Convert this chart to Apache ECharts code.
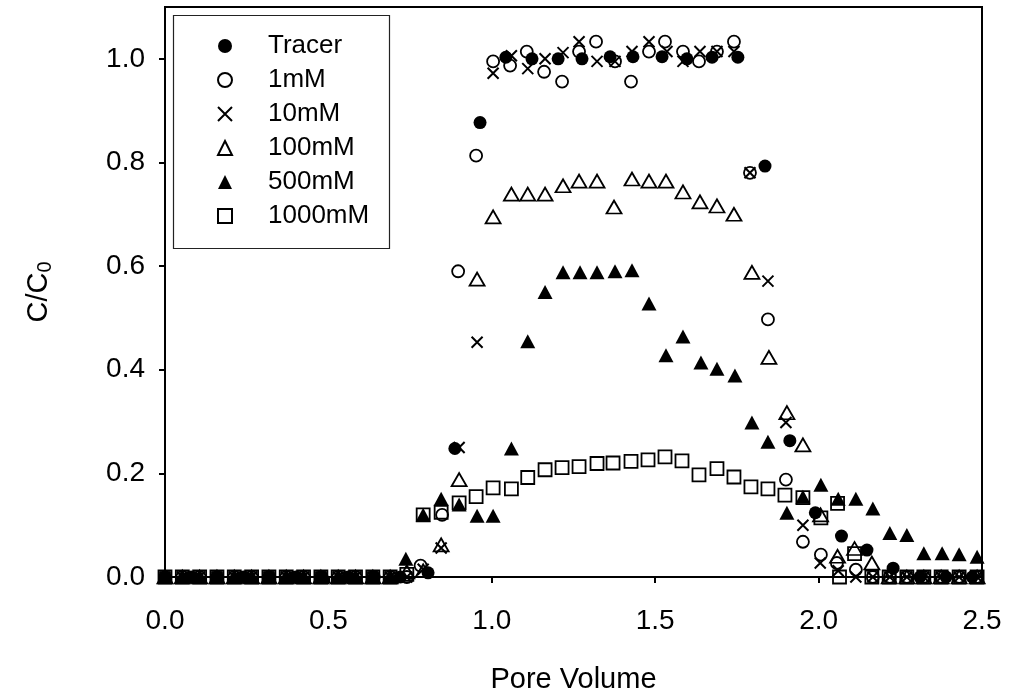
<!DOCTYPE html>
<html>
<head>
<meta charset="utf-8">
<script src="https://cdn.jsdelivr.net/npm/echarts@6/dist/echarts.min.js"></script>
<style>
  html, body { margin: 0; padding: 0; background: #fff; }
  #chart { width: 1013px; height: 692px; }
</style>
</head>
<body>
<div id="chart"></div>
<script>
// pore volume / C/C0 pairs
var seriesNames = ['Tracer', '1mM', '10mM', '100mM', '500mM', '1000mM'];
var xTicks = [0, 0.5, 1.0, 1.5, 2.0, 2.5];
var yTicks = [0, 0.2, 0.4, 0.6, 0.8, 1.0];

var tracer = [
  [0,0],[0.08,0],[0.16,0],[0.24,0],[0.32,0],[0.40,0],[0.48,0],[0.56,0],[0.64,0],[0.72,0],
  [0.805,0.008],[0.887,0.248],[0.964,0.877],[1.043,1.003],[1.123,1.0],[1.203,1.0],[1.276,1.0],
  [1.362,1.004],[1.432,1.004],[1.521,1.004],[1.597,1.0],[1.674,1.003],[1.753,1.003],[1.836,0.793],
  [1.912,0.263],[1.99,0.124],[2.07,0.079],[2.148,0.052],[2.228,0.017],[2.31,0],[2.39,0],[2.47,0]
];
var mM1 = [
  [0,0],[0.053,0],[0.106,0],[0.159,0],[0.212,0],[0.265,0],[0.318,0],[0.371,0],[0.424,0],[0.477,0],
  [0.53,0],[0.583,0],[0.636,0],[0.689,0],[0.74,0],[0.782,0.022],[0.848,0.12],[0.897,0.59],[0.952,0.813],
  [1.004,0.995],[1.056,0.987],[1.107,1.014],[1.16,0.975],[1.215,0.956],[1.267,1.014],[1.319,1.033],
  [1.377,0.995],[1.426,0.956],[1.481,1.014],[1.53,1.033],[1.585,1.014],[1.634,0.995],[1.689,1.014],
  [1.741,1.033],[1.79,0.78],[1.845,0.497],[1.9,0.188],[1.952,0.068],[2.007,0.043],[2.056,0.027],
  [2.114,0.014],[2.166,0],[2.218,0],[2.27,0],[2.322,0],[2.375,0],[2.43,0],[2.485,0]
];
var mM10 = [
  [0,0],[0.053,0],[0.106,0],[0.159,0],[0.212,0],[0.265,0],[0.318,0],[0.371,0],[0.424,0],[0.477,0],
  [0.53,0],[0.583,0],[0.636,0],[0.689,0],[0.74,0],[0.79,0.015],[0.845,0.056],[0.9,0.25],[0.955,0.453],
  [1.004,0.972],[1.06,1.006],[1.11,0.981],[1.163,1.0],[1.218,1.012],[1.267,1.033],[1.322,0.995],
  [1.377,0.995],[1.429,1.014],[1.481,1.033],[1.536,1.014],[1.585,0.995],[1.637,1.014],[1.689,1.014],
  [1.741,1.014],[1.79,0.78],[1.845,0.571],[1.9,0.298],[1.952,0.1],[2.005,0.027],[2.06,0.012],
  [2.114,0],[2.166,0],[2.218,0],[2.27,0],[2.322,0],[2.375,0],[2.43,0],[2.485,0]
];
var mM100 = [
  [0,0],[0.053,0],[0.106,0],[0.159,0],[0.212,0],[0.265,0],[0.318,0],[0.371,0],[0.424,0],[0.477,0],
  [0.53,0],[0.583,0],[0.636,0],[0.689,0],[0.74,0.01],[0.79,0.012],[0.845,0.062],[0.9,0.188],[0.955,0.575],
  [1.004,0.695],[1.06,0.739],[1.11,0.739],[1.163,0.739],[1.218,0.755],[1.267,0.764],[1.322,0.764],
  [1.374,0.714],[1.429,0.768],[1.481,0.764],[1.533,0.764],[1.585,0.743],[1.637,0.724],[1.689,0.716],
  [1.741,0.7],[1.796,0.588],[1.848,0.424],[1.903,0.317],[1.952,0.255],[2.006,0.12],[2.058,0.04],
  [2.11,0.055],[2.163,0.027],[2.216,0],[2.27,0],[2.322,0],[2.375,0],[2.43,0],[2.485,0]
];
var mM500 = [
  [0,0],[0.053,0],[0.106,0],[0.159,0],[0.212,0],[0.265,0],[0.318,0],[0.371,0],[0.424,0],[0.477,0],
  [0.53,0],[0.583,0],[0.636,0],[0.689,0],[0.737,0.035],[0.79,0.12],[0.845,0.151],[0.9,0.14],[0.955,0.118],
  [1.004,0.118],[1.06,0.248],[1.11,0.455],[1.163,0.55],[1.218,0.588],[1.27,0.588],[1.322,0.588],
  [1.377,0.59],[1.429,0.592],[1.481,0.528],[1.533,0.428],[1.585,0.464],[1.64,0.414],[1.689,0.402],
  [1.744,0.389],[1.796,0.298],[1.845,0.261],[1.903,0.124],[1.952,0.155],[2.007,0.178],[2.06,0.151],
  [2.114,0.151],[2.166,0.132],[2.218,0.085],[2.27,0.081],[2.322,0.046],[2.378,0.046],[2.43,0.044],[2.485,0.039]
];
var mM1000 = [
  [0,0],[0.053,0],[0.106,0],[0.159,0],[0.212,0],[0.265,0],[0.318,0],[0.371,0],[0.424,0],[0.477,0],
  [0.53,0],[0.583,0],[0.636,0],[0.689,0],[0.74,0.005],[0.79,0.12],[0.845,0.125],[0.9,0.143],[0.952,0.155],
  [1.004,0.172],[1.06,0.17],[1.11,0.192],[1.163,0.207],[1.215,0.211],[1.267,0.213],[1.322,0.219],
  [1.371,0.22],[1.426,0.223],[1.478,0.226],[1.53,0.232],[1.582,0.224],[1.634,0.197],[1.689,0.209],
  [1.741,0.193],[1.793,0.174],[1.845,0.17],[1.897,0.158],[1.952,0.153],[2.007,0.114],[2.058,0.142],
  [2.064,0],[2.11,0.045],[2.163,0],[2.216,0],[2.27,0],[2.322,0],[2.375,0],[2.43,0],[2.485,0]
];

var font = 'Liberation Sans, Arial, sans-serif';
var crossPath = 'path://M0,0L10,10M0,10L10,0';

var chart = echarts.init(document.getElementById('chart'), null, { renderer: 'canvas' });

function openStyle(w)
{
  return { color: 'rgba(0,0,0,0)', borderColor: '#000', borderWidth: w, opacity: 1 };
}

var option = {
  animation: false,
  backgroundColor: '#fff',
  grid: {
    left: 165, right: 31, top: 7, bottom: 115,
    outerBoundsMode: 'none',
    containLabel: false,
    show: true, borderColor: '#000', borderWidth: 2
  },
  graphic: [{
    type: 'rect',
    shape: { x: 173.5, y: 15.5, width: 216, height: 233 },
    style: { fill: 'none', stroke: '#222', lineWidth: 1.2 },
    z: 1
  }],
  legend: {
    orient: 'vertical',
    left: 217, top: 33,
    padding: 0,
    itemWidth: 14, itemHeight: 14,
    itemGap: 8,
    data: seriesNames,
    textStyle: { fontFamily: font, fontSize: 26, color: '#000', lineHeight: 26, padding: [0, 0, 0, 31] }
  },
  xAxis: {
    type: 'value', min: 0, max: 2.5, interval: 0.5,
    name: 'Pore Volume', nameLocation: 'middle', nameGap: 88,
    nameTextStyle: { fontFamily: font, fontSize: 29, color: '#000' },
    axisLine: { show: true, lineStyle: { color: '#000', width: 2 } },
    axisTick: { show: true, inside: false, length: 6, lineStyle: { color: '#000', width: 2 }, customValues: xTicks },
    axisLabel: { fontFamily: font, fontSize: 28, color: '#000', margin: 30, customValues: xTicks,
      formatter: function(v){ return v.toFixed(1); } },
    splitLine: { show: false }
  },
  yAxis: {
    type: 'value', min: 0, max: 1.1, interval: 0.2,
    name: '{a|C/C}{b|0}', nameLocation: 'middle', nameGap: 110,
    nameTextStyle: {
      rich: {
        a: { fontFamily: font, fontSize: 29, color: '#000', lineHeight: 32 },
        b: { fontFamily: font, fontSize: 20, color: '#000', lineHeight: 18, padding: [14, 0, 0, 0], verticalAlign: 'bottom' }
      }
    },
    axisLine: { show: true, lineStyle: { color: '#000', width: 2 } },
    axisTick: { show: true, inside: false, length: 6, lineStyle: { color: '#000', width: 2 }, customValues: yTicks },
    axisLabel: { fontFamily: font, fontSize: 28, color: '#000', margin: 20, customValues: yTicks,
      formatter: function(v){ return v.toFixed(1); } },
    splitLine: { show: false }
  },
  series: [
    { name: 'Tracer', type: 'scatter', data: tracer, symbol: 'circle', symbolSize: 13,
      itemStyle: { color: '#000', opacity: 1 } },
    { name: '1mM', type: 'scatter', data: mM1, symbol: 'circle', symbolSize: 12,
      itemStyle: openStyle(1.8) },
    { name: '10mM', type: 'scatter', data: mM10, symbol: crossPath, symbolSize: 11,
      itemStyle: openStyle(2) },
    { name: '100mM', type: 'scatter', data: mM100, symbol: 'triangle', symbolSize: [15, 13],
      itemStyle: openStyle(1.8) },
    { name: '500mM', type: 'scatter', data: mM500, symbol: 'triangle', symbolSize: [15, 14],
      itemStyle: { color: '#000', opacity: 1 } },
    { name: '1000mM', type: 'scatter', data: mM1000, symbol: 'rect', symbolSize: 13,
      itemStyle: openStyle(1.8) }
  ]
};

chart.setOption(option);
</script>
</body>
</html>
